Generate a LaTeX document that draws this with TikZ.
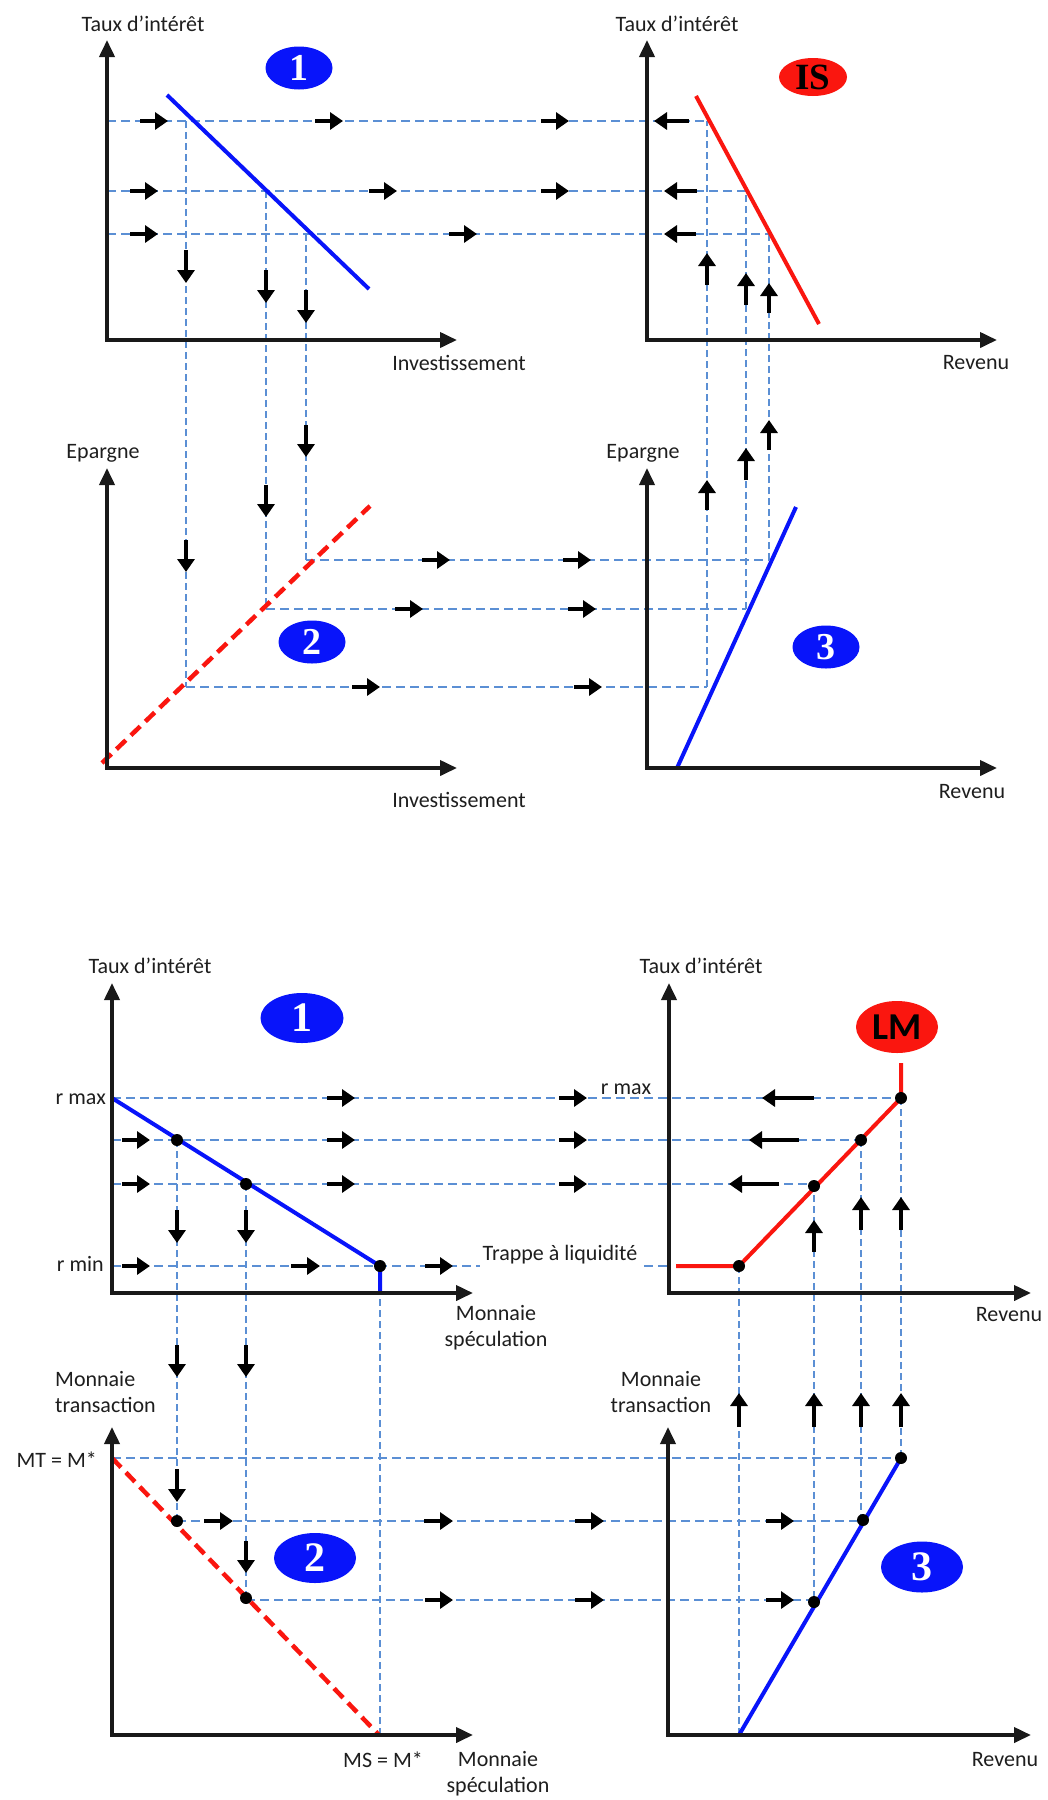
\documentclass[tikz,border=0pt]{standalone}
\usepackage{fontspec}
\setmainfont{Carlito}
\newfontfamily\serifnum{Liberation Serif}
\usetikzlibrary{arrows.meta,shapes.geometric}
\definecolor{guide}{RGB}{91,143,212}
\definecolor{curveblue}{RGB}{8,20,250}
\definecolor{curvered}{RGB}{250,22,15}
\definecolor{inkgray}{RGB}{30,30,30}
\begin{document}
\begin{tikzpicture}[x=1pt,y=-1pt,
  axis/.style={line width=3.8pt,-{Triangle[length=17pt,width=15pt]},black!90},
  guideh/.style={guide,line width=2.9pt,dash pattern=on 9pt off 5pt},
  guidev/.style={guide,line width=2.3pt,dash pattern=on 7pt off 4pt},
  flow/.style={line width=3.5pt,-{Triangle[length=13pt,width=17pt]},black},
  bluecurve/.style={curveblue,line width=4pt},
  redcurve/.style={curvered,line width=4pt},
  reddash/.style={curvered,line width=4.5pt,dash pattern=on 13pt off 7pt},
  lbl/.style={font=\fontsize{22}{26}\selectfont,text=inkgray,inner sep=0pt},
  tag/.style={ellipse,fill=curveblue,text=white,inner sep=0pt,
    font=\serifnum\bfseries\fontsize{38}{38}\selectfont},
  redtag/.style={ellipse,fill=curvered,text=black,inner sep=0pt},
  dot/.style={circle,fill=black,inner sep=0pt,minimum size=12pt},
]
\fill[white] (0,0) rectangle (1048,1800);
\useasboundingbox (0,0) rectangle (1048,1800);

%% ================= IS construction =================
% guide lines
\draw[guideh] (107,121) -- (707,121);
\draw[guideh] (107,191) -- (746,191);
\draw[guideh] (107,234) -- (769,234);
\draw[guidev] (186,121) -- (186,687);
\draw[guidev] (266,191) -- (266,609);
\draw[guidev] (306,234) -- (306,560);
\draw[guideh] (306,560) -- (769,560);
\draw[guideh] (266,609) -- (746,609);
\draw[guideh] (186,687) -- (707,687);
\draw[guidev] (707,687) -- (707,121);
\draw[guidev] (746,609) -- (746,191);
\draw[guidev] (769,560) -- (769,234);

% curves
\draw[bluecurve] (167,95) -- (369,289);
\draw[redcurve] (696,96) -- (819,324);
\draw[reddash] (102,763) -- (370,506);
\draw[bluecurve] (677,768) -- (796,507);

% axes
\draw[axis] (107,340) -- (107,40);
\draw[axis] (105,340) -- (457,340);
\draw[axis] (647,340) -- (647,40);
\draw[axis] (645,340) -- (997,340);
\draw[axis] (107,768) -- (107,468);
\draw[axis] (105,768) -- (457,768);
\draw[axis] (647,768) -- (647,468);
\draw[axis] (645,768) -- (997,768);

% flow arrows
\draw[flow] (140,121) -- (168,121);
\draw[flow] (315,121) -- (343,121);
\draw[flow] (541,121) -- (569,121);
\draw[flow] (689,121) -- (654,121);
\draw[flow] (130,191) -- (158,191);
\draw[flow] (369,191) -- (397,191);
\draw[flow] (541,191) -- (569,191);
\draw[flow] (697,191) -- (664,191);
\draw[flow] (130,234) -- (158,234);
\draw[flow] (449,234) -- (477,234);
\draw[flow] (696,234) -- (664,234);
\draw[flow] (186,250) -- (186,283);
\draw[flow] (266,270) -- (266,303);
\draw[flow] (306,290) -- (306,323);
\draw[flow] (306,425) -- (306,457);
\draw[flow] (266,485) -- (266,517);
\draw[flow] (186,540) -- (186,572);
\draw[flow] (422,560) -- (450,560);
\draw[flow] (563,560) -- (591,560);
\draw[flow] (395,609) -- (423,609);
\draw[flow] (568,609) -- (596,609);
\draw[flow] (352,687) -- (380,687);
\draw[flow] (574,687) -- (602,687);
\draw[flow] (707,510) -- (707,480);
\draw[flow] (707,285) -- (707,253);
\draw[flow] (746,480) -- (746,448);
\draw[flow] (746,305) -- (746,273);
\draw[flow] (769,450) -- (769,420);
\draw[flow] (769,313) -- (769,283);

% labels
\node[lbl] (tA) at (143,24) {Taux d’intérêt};
\node[lbl] (tB) at (677,24) {Taux d’intérêt};
\node[lbl] (xA) at (459,363) {Investissement};
\node[lbl] (xB) at (976,363) {Revenu};
\node[lbl] (tC) at (103,453) {Epargne};
\node[lbl] (tD) at (643,453) {Epargne};
\node[lbl] (xC) at (459,800) {Investissement};
\node[lbl] (xD) at (972,792) {Revenu};

% panel tags
\node[tag,minimum width=67pt,minimum height=43pt] (nA) at (299,68) {1};
\node[redtag,minimum width=68pt,minimum height=38pt,
  font=\serifnum\bfseries\fontsize{37}{37}\selectfont] (nB) at (813,77) {IS};
\node[tag,minimum width=67pt,minimum height=43pt] (nC) at (312,642) {2};
\node[tag,minimum width=67pt,minimum height=43pt] (nD) at (826,647) {3};

%% ================= LM construction =================
% guide lines
\draw[guideh] (112,1098) -- (901,1098);
\draw[guideh] (112,1140) -- (861,1140);
\draw[guideh] (112,1184) -- (814,1184);
\draw[guideh] (112,1266) -- (669,1266);
\draw[guidev] (177,1140) -- (177,1521);
\draw[guidev] (246,1184) -- (246,1600);
\draw[guidev] (380,1266) -- (380,1735);
\draw[guidev] (739,1266) -- (739,1735);
\draw[guidev] (814,1184) -- (814,1602);
\draw[guidev] (861,1140) -- (861,1521);
\draw[guidev] (901,1098) -- (901,1458);
\draw[guideh] (112,1458) -- (901,1458);
\draw[guideh] (177,1521) -- (861,1521);
\draw[guideh] (246,1600) -- (814,1600);

% curves
\draw[bluecurve] (112,1098) -- (380,1266) -- (380,1293);
\draw[redcurve] (676,1266) -- (739,1266) -- (901,1098) -- (901,1063);
\draw[reddash] (112,1458) -- (379,1735);
\draw[bluecurve] (739,1735) -- (901,1458);

% axes
\draw[axis] (112,1293) -- (112,983);
\draw[axis] (110,1293) -- (473,1293);
\draw[axis] (669,1293) -- (669,983);
\draw[axis] (667,1293) -- (1031,1293);
\draw[axis] (112,1735) -- (112,1427);
\draw[axis] (110,1735) -- (473,1735);
\draw[axis] (668,1735) -- (668,1427);
\draw[axis] (666,1735) -- (1031,1735);

% points on the curves
\node[dot] (p1) at (177,1140) {};
\node[dot] (p2) at (246,1184) {};
\node[dot] (p3) at (380,1266) {};
\node[dot] (q0) at (739,1266) {};
\node[dot] (q1) at (814,1186) {};
\node[dot] (q2) at (861,1140) {};
\node[dot] (q3) at (901,1098) {};
\node[dot] (s1) at (177,1521) {};
\node[dot] (s2) at (246,1598) {};
\node[dot] (u1) at (901,1458) {};
\node[dot] (u2) at (863,1520) {};
\node[dot] (u3) at (814,1602) {};

% flow arrows
\draw[flow] (327,1098) -- (355,1098);
\draw[flow] (559,1098) -- (587,1098);
\draw[flow] (814,1098) -- (762,1098);
\draw[flow] (122,1140) -- (150,1140);
\draw[flow] (327,1140) -- (355,1140);
\draw[flow] (559,1140) -- (587,1140);
\draw[flow] (799,1140) -- (749,1140);
\draw[flow] (122,1184) -- (150,1184);
\draw[flow] (327,1184) -- (355,1184);
\draw[flow] (559,1184) -- (587,1184);
\draw[flow] (779,1184) -- (729,1184);
\draw[flow] (122,1266) -- (150,1266);
\draw[flow] (291,1266) -- (320,1266);
\draw[flow] (425,1266) -- (453,1266);
\draw[flow] (177,1210) -- (177,1243);
\draw[flow] (177,1345) -- (177,1377);
\draw[flow] (177,1469) -- (177,1502);
\draw[flow] (246,1210) -- (246,1243);
\draw[flow] (246,1345) -- (246,1377);
\draw[flow] (246,1541) -- (246,1573);
\draw[flow] (204,1521) -- (233,1521);
\draw[flow] (424,1521) -- (453,1521);
\draw[flow] (575,1521) -- (604,1521);
\draw[flow] (766,1521) -- (794,1521);
\draw[flow] (425,1600) -- (453,1600);
\draw[flow] (575,1600) -- (604,1600);
\draw[flow] (766,1600) -- (794,1600);
\draw[flow] (739,1427) -- (739,1393);
\draw[flow] (814,1252) -- (814,1220);
\draw[flow] (814,1427) -- (814,1393);
\draw[flow] (861,1230) -- (861,1197);
\draw[flow] (861,1427) -- (861,1393);
\draw[flow] (901,1230) -- (901,1197);
\draw[flow] (901,1427) -- (901,1393);

% labels
\node[lbl] (tE) at (150,966) {Taux d’intérêt};
\node[lbl] (tF) at (701,966) {Taux d’intérêt};
\node[lbl,anchor=east] (rmaxE) at (106,1099) {r max};
\node[lbl,anchor=east] (rminE) at (104,1264) {r min};
\node[lbl,fill=white,inner sep=3pt] (trap) at (560,1255) {Trappe à liquidité};
\node[lbl,fill=white,inner sep=2pt] (rmaxF) at (626,1089) {r max};
\node[lbl,align=center] (xE) at (496,1328) {Monnaie\\spéculation};
\node[lbl] (xF) at (1009,1315) {Revenu};
\node[lbl,align=left,anchor=west] (tG) at (55,1392) {Monnaie\\transaction};
\node[lbl,anchor=east] (mt) at (97,1460) {MT = M*};
\node[lbl,align=center] (tH) at (661,1392) {Monnaie\\transaction};
\node[lbl] (ms) at (383,1760) {MS = M*};
\node[lbl,align=center] (xG) at (498,1774) {Monnaie\\spéculation};
\node[lbl] (xH) at (1005,1760) {Revenu};

% panel tags
\node[tag,minimum width=83pt,minimum height=50pt,
  font=\serifnum\bfseries\fontsize{42}{42}\selectfont] (nE) at (302,1018) {1};
\node[redtag,minimum width=82pt,minimum height=52pt,
  font=\bfseries\fontsize{38}{38}\selectfont] (nF) at (897,1027) {LM};
\node[tag,minimum width=82pt,minimum height=50pt,
  font=\serifnum\bfseries\fontsize{42}{42}\selectfont] (nG) at (315,1558) {2};
\node[tag,minimum width=82pt,minimum height=51pt,
  font=\serifnum\bfseries\fontsize{42}{42}\selectfont] (nH) at (922,1567) {3};
\end{tikzpicture}
\end{document}
